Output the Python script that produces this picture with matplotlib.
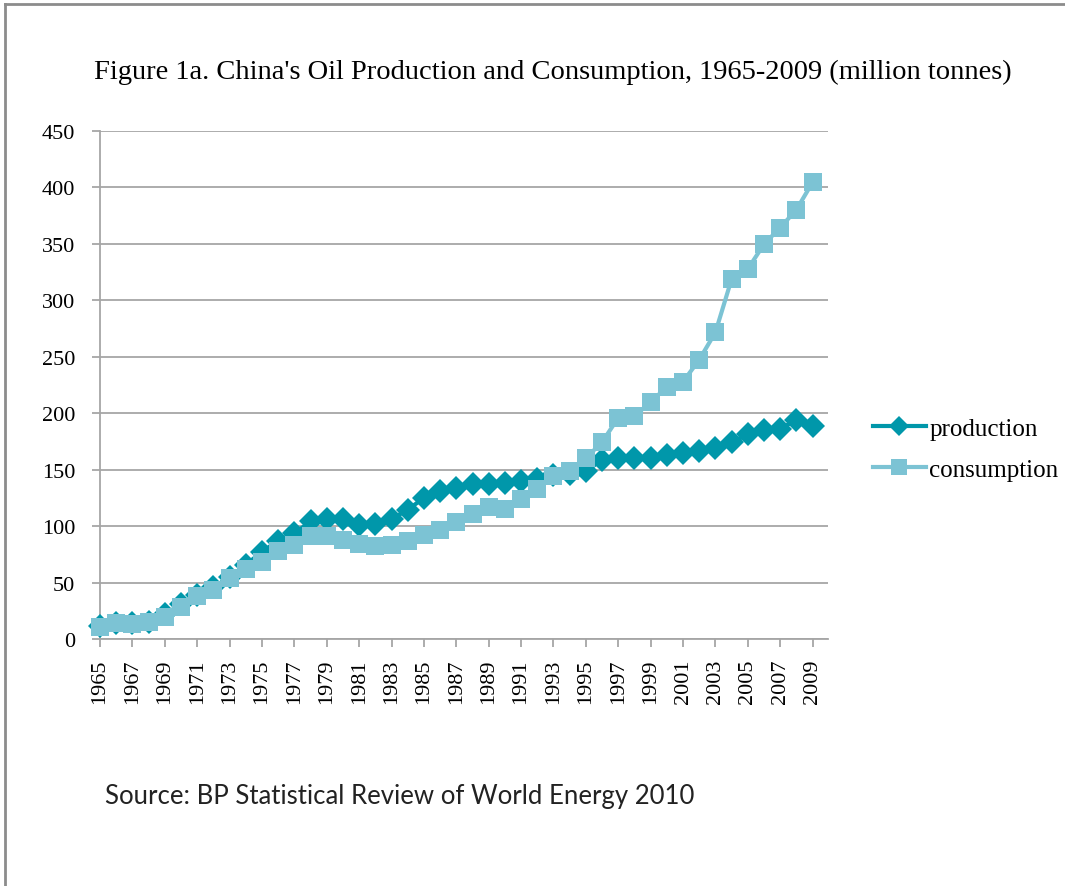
import numpy as np
import matplotlib
matplotlib.use("Agg")
import matplotlib.pyplot as plt
from matplotlib.lines import Line2D

# Data (million tonnes)
years = list(range(1965, 2010))
production = [11.3, 14.6, 14.0, 15.3, 21.9, 30.7, 39.4, 45.7, 54.8, 65.8,
              77.1, 87.2, 93.6, 104.1, 106.2, 106.0, 101.2, 102.1, 106.1, 114.6,
              124.9, 130.7, 134.1, 137.0, 137.6, 138.3, 140.1, 141.9, 145.3, 146.6,
              149.0, 158.5, 160.1, 160.2, 160.2, 162.6, 164.8, 166.9, 169.6, 174.1,
              181.4, 184.8, 186.3, 194.0, 189.0]
consumption = [10.9, 14.2, 13.6, 15.0, 19.6, 28.2, 37.9, 43.2, 53.7, 61.6,
               68.3, 77.8, 83.0, 91.4, 91.5, 88.0, 83.8, 82.0, 83.6, 86.6,
               91.7, 96.8, 103.6, 111.0, 116.6, 115.0, 124.4, 133.2, 144.4, 148.9,
               160.2, 174.4, 196.0, 197.7, 209.6, 223.6, 227.9, 247.4, 271.7, 318.9,
               327.8, 349.8, 364.4, 380.3, 404.6]
series_names = ["production", "consumption"]
title = "Figure 1a. China's Oil Production and Consumption, 1965-2009 (million tonnes)"
source = "Source: BP Statistical Review of World Energy 2010"

W, H = 1065, 887
prod_color = "#0097AA"
cons_color = "#7CC3D4"
grid_color = "#A6A6A6"
serif = ["Liberation Serif", "DejaVu Serif"]

fig = plt.figure(figsize=(W / 100, H / 100), dpi=100)
ax = fig.add_axes([100 / W, 1 - 640 / H, 728 / W, 508 / H])

ax.plot(years, production, color=prod_color, lw=3, marker="D", ms=12,
        mec=prod_color, mew=0, clip_on=False, zorder=3)
ax.plot(years, consumption, color=cons_color, lw=3, marker="s", ms=13.5,
        mec=cons_color, mew=0, clip_on=False, zorder=4)

ax.set_xlim(1965, 2009.95)
ax.set_ylim(0, 450)
ax.set_yticks(np.arange(0, 451, 50))
ax.set_xticks(years[::2])
ax.set_xticklabels([str(y) for y in years[::2]], rotation=90,
                   family=serif, fontsize=16)
for lab in ax.get_yticklabels():
    lab.set_family(serif)
    lab.set_fontsize(16)

ax.yaxis.grid(True, color=grid_color, lw=1.3)
ax.set_axisbelow(True)
for side in ("top", "right"):
    ax.spines[side].set_visible(False)
for side in ("left", "bottom"):
    ax.spines[side].set_color(grid_color)
    ax.spines[side].set_linewidth(1.3)
ax.tick_params(axis="y", length=6, width=1.3, color=grid_color, pad=12)
ax.tick_params(axis="x", length=6, width=1.3, color=grid_color, pad=8)

handles = [Line2D([], [], color=prod_color, lw=3, marker="D", ms=10, mew=0),
           Line2D([], [], color=cons_color, lw=3, marker="s", ms=11, mew=0)]
fig.legend(handles, series_names, loc="center left",
           bbox_to_anchor=(863 / W, 1 - 450 / H), frameon=False,
           prop={"family": serif, "size": 18}, handlelength=2.1,
           handletextpad=0.15, labelspacing=0.75, borderaxespad=0)

fig.text(553 / W, 1 - 72 / H, title, ha="center", va="center",
         family=serif, fontsize=20.5)
fig.text(105 / W, 1 - 797 / H, source, ha="left", va="center",
         family=["Lato", "DejaVu Sans"], fontsize=18.5, color="#222222")

# page frame
fig.add_artist(Line2D([5 / W, 5 / W], [0, 1 - 5 / H], transform=fig.transFigure,
                      color="#8C8C8C", lw=2))
fig.add_artist(Line2D([5 / W, 1], [1 - 5 / H, 1 - 5 / H], transform=fig.transFigure,
                      color="#8C8C8C", lw=2))

fig.savefig("out.png", dpi=100)
